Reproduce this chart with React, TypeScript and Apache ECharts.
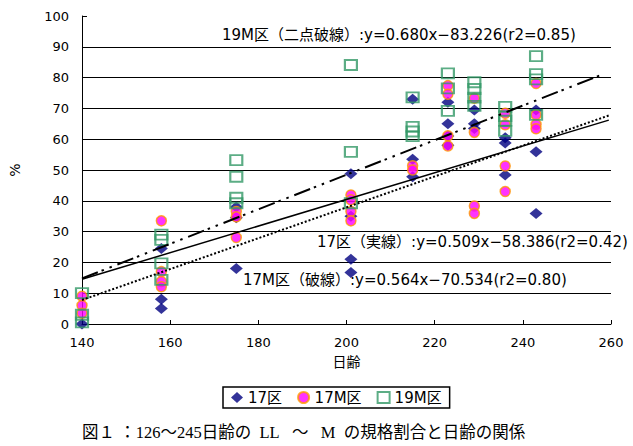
import React, { useEffect, useRef } from "react";
import * as echarts from "echarts";

// ages (days) of each sampling cluster
const ages = [140, 158, 175, 201, 215, 223, 229, 236, 243];
const xTickLabels = ["140", "160", "180", "200", "220", "240", "260"];
const yTickLabels = ["0", "10", "20", "30", "40", "50", "60", "70", "80", "90", "100"];

// values (%) per cluster
const ku17Values = [
  [0], [24.5, 8, 5], [38, 34.5, 18], [48.8, 35, 21, 16.7], [73, 53.5, 47.8],
  [72, 65, 61, 58], [69.5, 65, 63.5], [60.5, 58.8, 48.4], [69.5, 55.9, 35.9],
];
const ku17MValues = [
  [9, 6, 3.5], [33.5, 17, 13.8, 12.1], [36.5, 34.8, 28.1], [41.9, 40.3, 36.5, 33.5], [51.4, 50],
  [77.4, 74.6, 61.1, 57.8], [73.3, 62.2, 38.3, 35.9], [68.4, 64.7, 51.3, 43], [78.1, 67.9, 64.8, 63.4],
];
const ku19MValues = [
  [10, 3, 0.5], [29, 27.3, 19.7, 14.3], [53.2, 47.8, 41, 39.2], [84.1, 55.9, 39.2], [73.6, 64, 62.5, 61],
  [81.4, 76.5, 69.2], [78.5, 76.3, 73.5, 70.8], [70.5, 67.5, 66, 62.7], [87, 81.1, 79.4, 67.9],
];

// trend line end points as drawn
const trend19MLine = [[140, 14.8], [258, 81]];
const trend17Line = [[140, 14.5], [259.5, 66.2]];
const trend17MLine = [[140, 7.8], [259.5, 67.7]];

const seriesNames = ["17区", "17M区", "19M区"];
const note19M = "19M区（二点破線）:y=0.680x−83.226(r2=0.85)";
const note17 = "17区（実線）:y=0.509x−58.386(r2=0.42)";
const note17M = "17M区（破線）:y=0.564x−70.534(r2=0.80)";
const NB = "\u00A0";
const caption =
  "図１" + NB + "：126～245日齢の" + NB.repeat(2) + "LL" + NB.repeat(3) + "～" + NB.repeat(3) + "M" + NB.repeat(2) + "の規格割合と日齢の関係";
const xName = "日齢";
const yName = "%";

const toPoints = (vals: number[][]) =>
  ages.flatMap((a, i) => vals[i].map((v) => [a, v]));

const FONT = "'DejaVu Sans', 'Noto Sans CJK JP', sans-serif";

export default function App() {
  const ref = useRef<HTMLDivElement>(null);
  useEffect(() => {
    if (!ref.current) return;
    const chart = echarts.init(ref.current, null, { renderer: "svg" });
    chart.setOption({
      animation: false,
      backgroundColor: "#fff",
      grid: { left: 71, right: 22, top: 16, bottom: 122 },
      xAxis: {
        type: "value",
        min: 140,
        max: 260,
        interval: 20,
        name: xName,
        nameLocation: "middle",
        nameGap: 31,
        nameTextStyle: { color: "#000", fontSize: 14, fontFamily: FONT },
        axisLine: { show: true, lineStyle: { color: "#000", width: 1 } },
        axisTick: { show: true, inside: true, length: 4, lineStyle: { color: "#000" } },
        axisLabel: {
          color: "#000", fontSize: 13, fontFamily: FONT, margin: 12,
          formatter: (v: number) => xTickLabels[Math.round((v - 140) / 20)] ?? "",
        },
        splitLine: { show: false },
      },
      yAxis: {
        type: "value",
        min: 0,
        max: 100,
        interval: 10,
        name: yName,
        nameLocation: "middle",
        nameRotate: 90,
        nameGap: 60,
        nameTextStyle: { color: "#000", fontSize: 14, fontFamily: FONT },
        axisLine: { show: true, lineStyle: { color: "#000", width: 1 } },
        axisTick: { show: true, inside: true, length: 5, lineStyle: { color: "#000" } },
        axisLabel: {
          color: "#000", fontSize: 13, fontFamily: FONT, margin: 13,
          formatter: (v: number) => yTickLabels[Math.round(v / 10)] ?? "",
        },
        splitLine: {
          show: true, showMinLine: false, showMaxLine: false,
          lineStyle: { color: "#000", width: 1 },
        },
      },
      legend: {
        left: 223,
        top: 387,
        orient: "horizontal",
        itemWidth: 12,
        itemHeight: 11,
        itemGap: 15,
        padding: [3, 8, 3, 8],
        borderColor: "#000",
        borderWidth: 1.5,
        backgroundColor: "#fff",
        textStyle: { color: "#000", fontSize: 15, fontFamily: FONT },
        data: seriesNames,
      },
      graphic: [
        { type: "text", left: 222, top: 27, style: { text: note19M, fill: "#000", font: `15px ${FONT}` } },
        { type: "text", left: 317, top: 234, style: { text: note17, fill: "#000", font: `15px ${FONT}` } },
        { type: "text", left: 243, top: 272, style: { text: note17M, fill: "#000", font: `15px ${FONT}` } },
        {
          type: "text", left: 82, top: 424,
          style: { text: caption, fill: "#000", font: `16.5px 'Liberation Serif', 'Noto Sans CJK JP', serif` },
        },
      ],
      series: [
        {
          name: seriesNames[0],
          type: "scatter",
          symbol: "diamond",
          symbolSize: [13, 11],
          itemStyle: { color: "#000080" },
          data: toPoints(ku17Values),
        },
        {
          name: seriesNames[1],
          type: "scatter",
          symbol: "circle",
          symbolSize: 10,
          itemStyle: { color: "#FF00FF", borderColor: "#FF9900", borderWidth: 1.5 },
          data: toPoints(ku17MValues),
        },
        {
          name: seriesNames[2],
          type: "scatter",
          symbol: "rect",
          symbolSize: [12, 10],
          itemStyle: { color: "rgba(0,0,0,0)", borderColor: "#339966", borderWidth: 2 },
          data: toPoints(ku19MValues),
        },
        {
          name: "trend19M",
          type: "line",
          symbol: "none",
          silent: true,
          lineStyle: { color: "#000", width: 2, type: [17, 4, 2.5, 6, 2.5, 6] },
          data: trend19MLine,
        },
        {
          name: "trend17",
          type: "line",
          symbol: "none",
          silent: true,
          lineStyle: { color: "#000", width: 1.5, type: "solid" },
          data: trend17Line,
        },
        {
          name: "trend17M",
          type: "line",
          symbol: "none",
          silent: true,
          lineStyle: { color: "#000", width: 2, type: [2, 2] },
          data: trend17MLine,
        },
      ],
    });
    return () => chart.dispose();
  }, []);
  return (
    <div
      ref={ref}
      style={{ position: "fixed", left: 0, top: 0, width: 633, height: 446, background: "#fff" }}
    />
  );
}
